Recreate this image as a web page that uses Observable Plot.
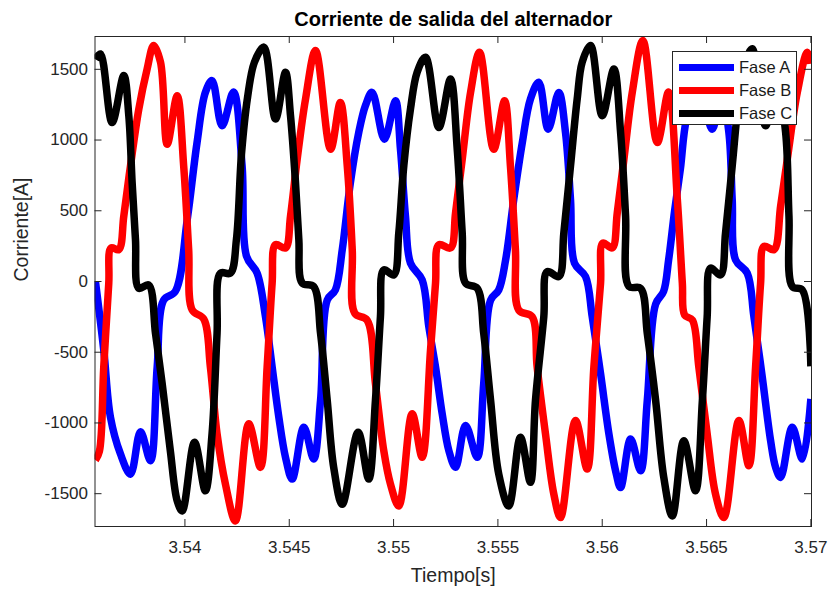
<!DOCTYPE html>
<html><head><meta charset="utf-8">
<script src="https://cdn.jsdelivr.net/npm/d3@7"></script>
<script src="https://cdn.jsdelivr.net/npm/@observablehq/plot@0.6"></script>
<style>
body{margin:0;background:#fff;}
#wrap{position:relative;width:832px;height:590px;font-family:"Liberation Sans",Arial,Helvetica,sans-serif;}
#legend{position:absolute;left:672px;top:51px;width:123px;height:72px;border:1px solid #262626;background:#fff;}
.row{position:absolute;left:0;height:20px;display:flex;align-items:center;}
.sw{width:55px;height:7px;margin-left:6px;margin-right:5px;}
.lab{font-size:16.5px;color:#1a1a1a;white-space:nowrap;}
</style></head>
<body><div id="wrap"></div>
<script>
const title = "Corriente de salida del alternador";
const xLabel = "Tiempo[s]";
const yLabel = "Corriente[A]";
const seriesNames = ["Fase A", "Fase B", "Fase C"];
const seriesColors = ["#0000ff", "#ff0000", "#000000"];
const xTicks = [3.54, 3.545, 3.55, 3.555, 3.56, 3.565, 3.57];
const xTickLabels = ["3.54", "3.545", "3.55", "3.555", "3.56", "3.565", "3.57"];
const yTicks = [-1500, -1000, -500, 0, 500, 1000, 1500];
const yTickLabels = ["-1500", "-1000", "-500", "0", "500", "1000", "1500"];

const faseA = [[3.53571,0],[3.53611,-486],[3.53643,-959],[3.53691,-1219],[3.53739,-1362],[3.53787,-1063],[3.53835,-1267],[3.53867,-604],[3.53898,-131],[3.53954,-70],[3.54011,437],[3.54058,982],[3.54098,1337],[3.5413,1420],[3.54178,1101],[3.54233,1340],[3.54274,817],[3.54295,180],[3.54346,59],[3.54386,-249],[3.54418,-604],[3.5445,-959],[3.54482,-1243],[3.54514,-1397],[3.5457,-1030],[3.54617,-1255],[3.5465,-841],[3.54682,-131],[3.54721,-60],[3.54754,224],[3.54793,698],[3.54833,1053],[3.54865,1243],[3.54897,1337],[3.54956,1006],[3.55009,1278],[3.55033,935],[3.55057,462],[3.55081,130],[3.55137,11],[3.55169,-320],[3.55201,-604],[3.55233,-935],[3.55265,-1196],[3.55297,-1314],[3.55345,-1018],[3.55401,-1243],[3.55432,-722],[3.55465,-131],[3.55504,-60],[3.55537,153],[3.55576,580],[3.55617,982],[3.55656,1290],[3.55696,1408],[3.55741,1077],[3.55792,1337],[3.55824,1053],[3.55848,580],[3.55867,130],[3.5592,35],[3.55952,-249],[3.55992,-651],[3.56032,-1077],[3.56064,-1338],[3.56088,-1456],[3.56136,-1113],[3.56184,-1338],[3.56216,-841],[3.56256,-160],[3.56294,-71],[3.56318,150],[3.56347,500],[3.56375,800],[3.56404,1150],[3.56462,1390],[3.56527,1077],[3.56572,1330],[3.56607,1053],[3.56623,580],[3.56639,153],[3.56695,59],[3.56727,-249],[3.56767,-675],[3.56807,-1125],[3.56831,-1314],[3.56855,-1385],[3.56911,-1030],[3.56959,-1255],[3.57,-830]];

const faseB = [[3.53571,-1262],[3.5359,-1200],[3.53611,-604],[3.53635,-12],[3.53646,237],[3.53683,225],[3.53707,462],[3.53739,817],[3.53779,1219],[3.53819,1503],[3.5385,1669],[3.53883,1550],[3.53915,970],[3.53963,1314],[3.53994,817],[3.54018,224],[3.54035,-202],[3.5409,-265],[3.54122,-604],[3.54154,-1077],[3.54194,-1432],[3.54242,-1693],[3.54306,-1006],[3.54362,-1314],[3.54394,-604],[3.54418,-12],[3.54434,260],[3.54482,237],[3.54506,462],[3.54538,864],[3.54578,1290],[3.54626,1633],[3.54698,935],[3.54745,1266],[3.54778,817],[3.54802,224],[3.54814,-225],[3.54873,-273],[3.54913,-722],[3.54953,-1196],[3.54985,-1432],[3.55025,-1587],[3.55089,-935],[3.55137,-1243],[3.55177,-486],[3.55201,-12],[3.55217,260],[3.55273,237],[3.55297,485],[3.55329,864],[3.55369,1337],[3.55412,1621],[3.5548,935],[3.55532,1278],[3.5556,817],[3.55584,224],[3.556,-202],[3.55664,-249],[3.55688,-604],[3.55728,-1077],[3.55768,-1503],[3.558,-1669],[3.55872,-983],[3.55928,-1326],[3.5596,-604],[3.55992,-12],[3.56003,272],[3.56048,237],[3.56072,485],[3.56104,864],[3.56144,1337],[3.56195,1704],[3.56264,982],[3.56318,1340],[3.5636,580],[3.56384,-12],[3.56395,-237],[3.56432,-273],[3.56463,-604],[3.56503,-1077],[3.56543,-1503],[3.56583,-1669],[3.56655,-983],[3.56703,-1303],[3.56735,-604],[3.56759,-12],[3.56775,249],[3.56823,225],[3.56855,533],[3.56887,864],[3.56935,1337],[3.56983,1621],[3.57,1540]];

const faseC = [[3.53571,1570],[3.53595,1609],[3.53651,1124],[3.53707,1456],[3.53731,1172],[3.53747,698],[3.53763,295],[3.53779,-48],[3.53826,-24],[3.53859,-367],[3.53891,-722],[3.5393,-1196],[3.53963,-1551],[3.53987,-1622],[3.54046,-1136],[3.54098,-1480],[3.5413,-1077],[3.54154,-367],[3.5417,59],[3.54218,59],[3.54247,300],[3.54271,900],[3.543,1300],[3.54333,1550],[3.54378,1657],[3.54434,1148],[3.54482,1479],[3.54506,1172],[3.5453,698],[3.54546,295],[3.54562,-12],[3.54617,-35],[3.5465,-367],[3.54682,-841],[3.54713,-1314],[3.54754,-1575],[3.5483,-1065],[3.54881,-1397],[3.54913,-841],[3.54937,-249],[3.54953,82],[3.55001,47],[3.55025,343],[3.55049,817],[3.55081,1219],[3.55113,1479],[3.55153,1586],[3.55217,1089],[3.55273,1432],[3.55305,935],[3.55329,343],[3.55345,-12],[3.55401,-48],[3.55432,-367],[3.55465,-841],[3.55504,-1361],[3.55552,-1587],[3.55608,-1101],[3.55656,-1420],[3.5568,-841],[3.5572,-249],[3.55736,70],[3.55792,35],[3.55816,343],[3.55848,817],[3.5588,1290],[3.55904,1550],[3.55944,1669],[3.56,1172],[3.56056,1503],[3.56088,1053],[3.56112,462],[3.56128,-35],[3.56184,-48],[3.56216,-367],[3.56256,-841],[3.56295,-1385],[3.56336,-1658],[3.56391,-1125],[3.56447,-1480],[3.5648,-841],[3.56503,-249],[3.56519,94],[3.56567,47],[3.56591,343],[3.56623,817],[3.56655,1290],[3.56687,1550],[3.56719,1645],[3.56783,1101],[3.56836,1430],[3.56879,1053],[3.56895,462],[3.56911,-35],[3.56959,-60],[3.57,-600]];

const allSeries = [faseA, faseB, faseC];
const FONT = '"Liberation Sans", Arial, Helvetica, sans-serif';
const axisColor = "#262626";

const lineMarks = allSeries.map((s, i) => Plot.line(s, {
  x: d => d[0], y: d => d[1], stroke: seriesColors[i], strokeWidth: 7.5,
  curve: "catmull-rom", strokeLinejoin: "round", strokeLinecap: "butt", clip: true
}));

const chart = Plot.plot({
  width: 832, height: 590,
  marginLeft: 94.5, marginRight: 21, marginTop: 36, marginBottom: 64,
  style: {fontFamily: FONT, color: axisColor, background: "white", overflow: "visible"},
  x: {domain: [3.53569, 3.57003]},
  y: {domain: [-1732, 1732]},
  marks: [
    ...lineMarks,
    Plot.frame({stroke: axisColor, strokeWidth: 1}),
    Plot.tickX(xTicks, {x: d => d, insetTop: 483, stroke: axisColor}),
    Plot.tickX(xTicks, {x: d => d, insetBottom: 483, stroke: axisColor}),
    Plot.tickY(yTicks, {y: d => d, insetRight: 709.5, stroke: axisColor}),
    Plot.tickY(yTicks, {y: d => d, insetLeft: 709.5, stroke: axisColor}),
    Plot.axisX(xTicks, {tickSize: 0, tickPadding: 14, fontSize: 17, label: null,
      tickFormat: d => xTickLabels[xTicks.indexOf(d)], fill: axisColor}),
    Plot.axisY(yTicks, {tickSize: 0, tickPadding: 7, fontSize: 17, label: null,
      tickFormat: d => yTickLabels[yTicks.indexOf(d)], fill: axisColor}),
    Plot.text([xLabel], {frameAnchor: "bottom", lineAnchor: "middle", dy: 49, fontSize: 19.5, fill: axisColor}),
    Plot.text([yLabel], {frameAnchor: "left", lineAnchor: "middle", dx: -73.5, rotate: -90, fontSize: 19.5, fill: axisColor}),
    Plot.text([title], {frameAnchor: "top", lineAnchor: "middle", dy: -17, fontSize: 20, fontWeight: "bold", fill: "#000"})
  ]
});

const wrap = document.getElementById("wrap");
wrap.appendChild(chart);

const legend = document.createElement("div");
legend.id = "legend";
seriesNames.forEach((name, i) => {
  const row = document.createElement("div");
  row.className = "row";
  row.style.top = (5 + i * 23.4) + "px";
  const sw = document.createElement("span");
  sw.className = "sw";
  sw.style.background = seriesColors[i];
  const lab = document.createElement("span");
  lab.className = "lab";
  lab.textContent = name;
  row.appendChild(sw); row.appendChild(lab);
  legend.appendChild(row);
});
wrap.appendChild(legend);
</script></body></html>
